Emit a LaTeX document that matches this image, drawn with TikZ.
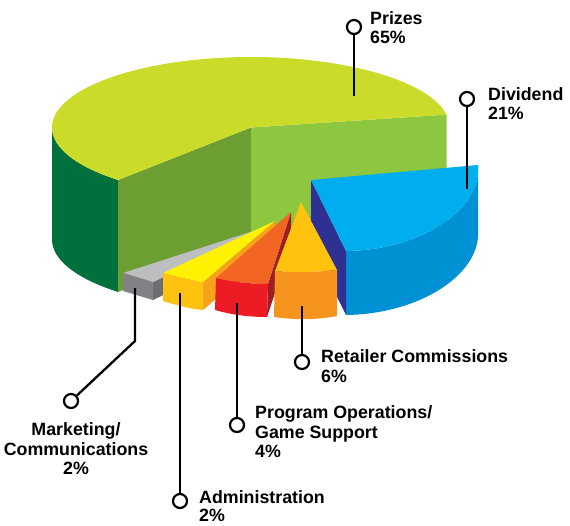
\documentclass[tikz,border=0pt]{standalone}
\usepackage{fontspec}
\setmainfont{Liberation Sans}
\definecolor{ptop}{HTML}{CBDB2A}
\definecolor{pright}{HTML}{8DC63F}
\definecolor{pleft}{HTML}{6D9E31}
\definecolor{pwall}{HTML}{00703C}
\definecolor{btop}{HTML}{00AEEF}
\definecolor{bwall}{HTML}{0090D4}
\definecolor{bside}{HTML}{2E3192}
\definecolor{gtop}{HTML}{BCBEC0}
\definecolor{gfront}{HTML}{808285}
\definecolor{gside}{HTML}{6D6E71}
\definecolor{ytop}{HTML}{FFF200}
\definecolor{yfront}{HTML}{FFC20E}
\definecolor{yside}{HTML}{F7A21B}
\definecolor{rtop}{HTML}{F26522}
\definecolor{rfront}{HTML}{ED1C24}
\definecolor{rside}{HTML}{9E1F23}
\definecolor{otop}{HTML}{FFC20E}
\definecolor{ofront}{HTML}{F7941D}
\begin{document}
\begin{tikzpicture}[x=1pt,y=-1pt,
  lbl/.style={font=\fontsize{17.8}{20}\selectfont\bfseries, inner sep=0pt},
  pin/.style={circle, draw=black, line width=2.2pt, fill=white, minimum size=14pt, inner sep=0pt},
  lead/.style={draw=black, line width=2.3pt}]
\useasboundingbox (0,0) rectangle (570,525);

% ---------- big pie (Prizes) ----------
\coordinate (O) at (251,127.5);
\coordinate (Ob) at (251,239.5);
\coordinate (L) at ([shift={(251,127.5)}]131.9:199 and 70.5);
\coordinate (R) at ([shift={(251,127.5)}]-10.5:199 and 70.5);
\fill[pwall] ([shift={(251,127.5)}]180:199 and 70.5)
  arc[start angle=180, end angle=131.9, x radius=199, y radius=70.5]
  -- ++(0,112)
  arc[start angle=131.9, end angle=180, x radius=199, y radius=70.5] -- cycle;
\fill[pleft] (O) -- (L) -- ++(0,112) -- (Ob) -- cycle;
\fill[pright] (O) -- (R) -- ++(0,112) -- (Ob) -- cycle;
\fill[ptop] (O) -- (R)
  arc[start angle=-10.5, end angle=-228.1, x radius=199, y radius=70.5] -- cycle;

% ---------- blue slice (Dividend) ----------
\coordinate (bA) at (311,180);
\coordinate (bB) at (478,165);
\coordinate (bF) at (346,251);
\fill[bwall] (bB) .. controls (482,210) and (420,250) .. (bF) -- (346,315)
  .. controls (420,314) and (482,274) .. (478,229) -- cycle;
\fill[bside] (bA) -- (bF) -- (346,315) -- (311,244) -- cycle;
\fill[btop] (bA) -- (bB) .. controls (482,210) and (420,250) .. (bF) -- cycle;

% ---------- gray slice (Marketing) ----------
\fill[gside] (153,282) -- (272,225) -- (272,243) -- (153,300) -- cycle;
\fill[gtop] (272,225) -- (123,273) -- (153,282) -- cycle;
\fill[gfront] (123,273) -- (153,282) -- (153,300) -- (123,291) -- cycle;

% ---------- yellow slice (Administration) ----------
\fill[yside] (203,282) -- (275,221) -- (275,249) -- (203,310) -- cycle;
\fill[ytop] (275,221) -- (163,273) .. controls (176,277) and (190,280) .. (203,282) -- cycle;
\fill[yfront] (163,273) .. controls (176,277) and (190,280) .. (203,282) -- (203,310)
  .. controls (190,309) and (176,305) .. (163,301) -- cycle;

% ---------- red slice (Program Operations) ----------
\fill[rside] (268,284) -- (291,212) -- (291,245) -- (267,317) -- cycle;
\fill[rtop] (291,212) -- (216,278) .. controls (233,282) and (251,284) .. (268,284) -- cycle;
\fill[rfront] (216,278) .. controls (233,282) and (251,284) .. (268,284) -- (267,317)
  .. controls (250,317) and (232,315) .. (215,310) -- cycle;

% ---------- orange slice (Retailer Commissions) ----------
\fill[otop] (301,202) -- (275,271) .. controls (296,273) and (317,272) .. (337,270) -- cycle;
\fill[ofront] (275,271) .. controls (296,273) and (317,272) .. (337,270) -- (337,316)
  .. controls (316,320) and (295,320) .. (274,317) -- cycle;

% ---------- leader lines and pins ----------
\coordinate (tPz) at (354,96);
\coordinate (tDv) at (467,189);
\coordinate (tRc) at (302,306);
\coordinate (tPo) at (237,303);
\coordinate (tAd) at (180,293);
\coordinate (tMk) at (135,288);
\coordinate (kMk) at (135,341);

\node[pin] (cPz) at (354,27) {};
\node[pin] (cDv) at (467,99) {};
\node[pin] (cRc) at (302,362) {};
\node[pin] (cPo) at (237,425) {};
\node[pin] (cAd) at (180,501) {};
\node[pin] (cMk) at (71,401) {};

\draw[lead] (tPz) -- (cPz);
\draw[lead] (tDv) -- (cDv);
\draw[lead] (tRc) -- (cRc);
\draw[lead] (tPo) -- (cPo);
\draw[lead] (tAd) -- (cAd);
\draw[lead, line join=miter] (tMk) -- (kMk) -- (cMk);

% ---------- labels ----------
\node[lbl, anchor=base west] (lPz1) at (370,24) {Prizes};
\node[lbl, anchor=base west] (lPz2) at (370,43) {65\%};
\node[lbl, anchor=base west] (lDv1) at (488,100) {Dividend};
\node[lbl, anchor=base west] (lDv2) at (488,119) {21\%};
\node[lbl, anchor=base west] (lRc1) at (321,362) {Retailer Commissions};
\node[lbl, anchor=base west] (lRc2) at (321,382) {6\%};
\node[lbl, anchor=base west] (lPo1) at (255,418) {Program Operations/};
\node[lbl, anchor=base west] (lPo2) at (255,438) {Game Support};
\node[lbl, anchor=base west] (lPo3) at (255,457) {4\%};
\node[lbl, anchor=base] (lMk1) at (76,435) {Marketing/};
\node[lbl, anchor=base] (lMk2) at (76,455) {Communications};
\node[lbl, anchor=base] (lMk3) at (76,474) {2\%};
\node[lbl, anchor=base west] (lAd1) at (199,503) {Administration};
\node[lbl, anchor=base west] (lAd2) at (199,521.5) {2\%};
\end{tikzpicture}
\end{document}
